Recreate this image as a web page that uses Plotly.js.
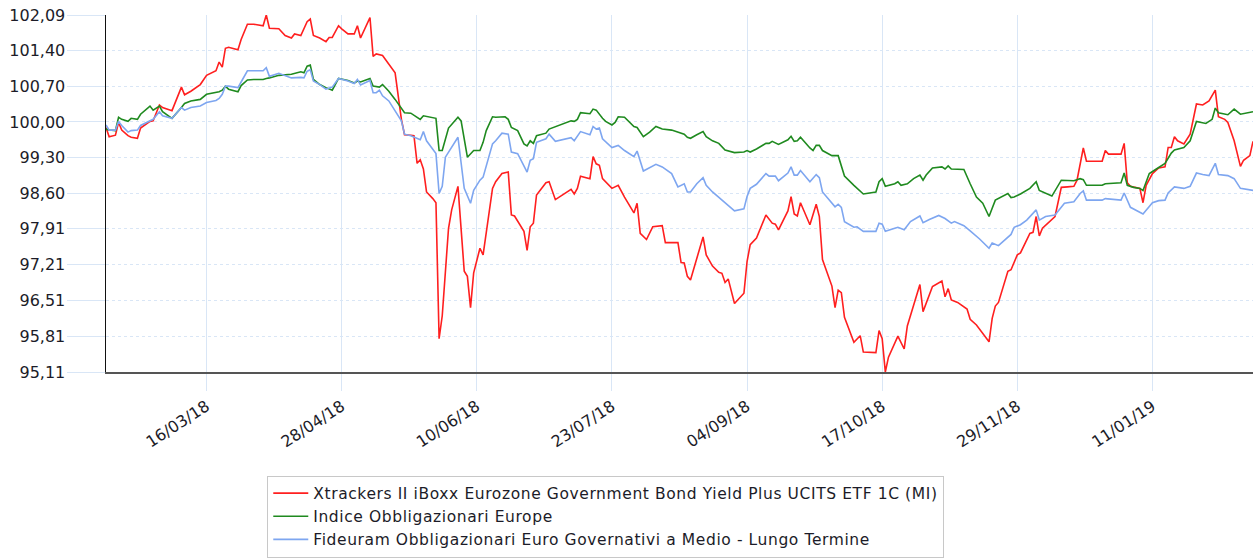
<!DOCTYPE html>
<html>
<head>
<meta charset="utf-8">
<script src="https://cdn.plot.ly/plotly-3.0.1.min.js"></script>
<style>html,body{margin:0;padding:0;background:#fff;}#chart{width:1255px;height:559px;}.legendtext{letter-spacing:0.6px;}</style>
</head>
<body>
<div id="chart"></div>
<script>
const seriesNames = [
  "Xtrackers II iBoxx Eurozone Government Bond Yield Plus UCITS ETF 1C (MI)",
  "Indice Obbligazionari Europe",
  "Fideuram Obbligazionari Euro Governativi a Medio - Lungo Termine"
];

const redDates = ["2018-02-12","2018-02-13","2018-02-15","2018-02-16","2018-02-17","2018-02-19","2018-02-20","2018-02-22","2018-02-23","2018-02-26","2018-02-27","2018-03-01","2018-03-02","2018-03-05","2018-03-08","2018-03-09","2018-03-11","2018-03-14","2018-03-16","2018-03-19","2018-03-20","2018-03-21","2018-03-22","2018-03-23","2018-03-26","2018-03-27","2018-03-29","2018-03-31","2018-04-03","2018-04-04","2018-04-05","2018-04-08","2018-04-10","2018-04-12","2018-04-13","2018-04-15","2018-04-17","2018-04-18","2018-04-19","2018-04-21","2018-04-23","2018-04-24","2018-04-25","2018-04-27","2018-04-28","2018-04-30","2018-05-02","2018-05-03","2018-05-04","2018-05-07","2018-05-08","2018-05-09","2018-05-11","2018-05-13","2018-05-15","2018-05-17","2018-05-18","2018-05-20","2018-05-21","2018-05-22","2018-05-23","2018-05-24","2018-05-25","2018-05-27","2018-05-28","2018-05-29","2018-05-30","2018-06-01","2018-06-02","2018-06-04","2018-06-06","2018-06-07","2018-06-08","2018-06-09","2018-06-11","2018-06-12","2018-06-13","2018-06-15","2018-06-16","2018-06-18","2018-06-20","2018-06-21","2018-06-22","2018-06-25","2018-06-26","2018-06-27","2018-06-28","2018-06-29","2018-07-02","2018-07-03","2018-07-05","2018-07-10","2018-07-11","2018-07-12","2018-07-13","2018-07-16","2018-07-17","2018-07-18","2018-07-19","2018-07-20","2018-07-23","2018-07-25","2018-07-27","2018-07-30","2018-07-31","2018-08-01","2018-08-03","2018-08-05","2018-08-08","2018-08-09","2018-08-13","2018-08-14","2018-08-15","2018-08-16","2018-08-17","2018-08-19","2018-08-21","2018-08-22","2018-08-24","2018-08-26","2018-08-27","2018-08-28","2018-08-29","2018-08-31","2018-09-03","2018-09-04","2018-09-05","2018-09-07","2018-09-10","2018-09-12","2018-09-13","2018-09-14","2018-09-17","2018-09-18","2018-09-19","2018-09-20","2018-09-21","2018-09-24","2018-09-26","2018-09-27","2018-09-28","2018-10-01","2018-10-02","2018-10-03","2018-10-04","2018-10-05","2018-10-08","2018-10-10","2018-10-11","2018-10-15","2018-10-16","2018-10-17","2018-10-18","2018-10-19","2018-10-22","2018-10-24","2018-10-25","2018-10-29","2018-10-30","2018-11-02","2018-11-05","2018-11-06","2018-11-07","2018-11-08","2018-11-10","2018-11-13","2018-11-14","2018-11-16","2018-11-20","2018-11-21","2018-11-22","2018-11-23","2018-11-26","2018-11-27","2018-11-29","2018-11-30","2018-12-03","2018-12-04","2018-12-05","2018-12-06","2018-12-07","2018-12-11","2018-12-13","2018-12-15","2018-12-17","2018-12-18","2018-12-20","2018-12-21","2018-12-26","2018-12-27","2018-12-28","2019-01-01","2019-01-02","2019-01-03","2019-01-04","2019-01-07","2019-01-08","2019-01-09","2019-01-11","2019-01-13","2019-01-15","2019-01-16","2019-01-17","2019-01-18","2019-01-19","2019-01-21","2019-01-23","2019-01-25","2019-01-27","2019-01-29","2019-01-31","2019-02-01","2019-02-03","2019-02-04","2019-02-06","2019-02-08","2019-02-09","2019-02-11","2019-02-12"];
const redValues = [99.89,99.71,99.74,99.99,99.84,99.73,99.70,99.68,99.88,100.01,100.02,100.33,100.28,100.22,100.68,100.53,100.60,100.73,100.91,101.00,101.17,101.07,101.44,101.46,101.41,101.61,101.91,101.91,101.88,102.09,101.83,101.82,101.69,101.64,101.72,101.69,101.96,102.01,101.69,101.64,101.57,101.65,101.65,101.88,101.82,101.72,101.72,101.88,101.64,102.04,101.28,101.33,101.30,101.13,100.96,100.05,99.75,99.74,99.73,99.19,99.26,99.08,98.63,98.50,98.42,95.76,96.21,97.92,98.28,98.74,97.08,96.98,96.37,97.05,97.53,97.40,97.82,98.70,98.83,98.99,99.02,98.18,98.16,97.86,97.49,97.95,98.02,98.57,98.81,98.83,98.48,98.68,98.59,98.70,98.94,98.89,99.32,99.18,99.15,98.89,98.70,98.76,98.53,98.22,98.41,97.82,97.70,97.95,97.97,97.64,97.64,97.25,97.24,96.98,96.91,97.31,97.75,97.40,97.18,97.06,97.04,96.86,96.93,96.45,96.65,97.27,97.60,97.73,98.18,98.02,98.00,97.89,98.26,98.54,98.20,98.16,98.42,97.99,98.39,98.15,97.31,96.79,96.37,96.71,96.66,96.18,95.69,95.82,95.50,95.49,95.92,95.76,95.11,95.40,95.81,95.56,96.01,96.82,96.29,96.78,96.89,96.58,96.74,96.52,96.47,96.34,96.14,96.03,95.70,96.16,96.40,96.47,97.08,97.11,97.40,97.44,97.82,97.84,98.15,97.77,97.92,98.15,98.72,98.73,98.74,98.86,99.49,99.23,99.23,99.44,99.37,99.37,99.58,98.81,98.74,98.70,98.42,98.76,98.99,99.10,99.12,99.50,99.50,99.71,99.63,99.57,99.76,100.35,100.33,100.41,100.62,100.10,100.05,99.99,99.63,99.13,99.25,99.34,99.62];

const greenDates = ["2018-02-12","2018-02-13","2018-02-15","2018-02-16","2018-02-17","2018-02-19","2018-02-20","2018-02-22","2018-02-23","2018-02-26","2018-02-27","2018-03-01","2018-03-02","2018-03-05","2018-03-08","2018-03-09","2018-03-11","2018-03-14","2018-03-16","2018-03-19","2018-03-20","2018-03-21","2018-03-22","2018-03-23","2018-03-26","2018-03-27","2018-03-29","2018-03-31","2018-04-03","2018-04-04","2018-04-05","2018-04-08","2018-04-12","2018-04-15","2018-04-16","2018-04-17","2018-04-18","2018-04-19","2018-04-21","2018-04-23","2018-04-25","2018-04-27","2018-04-30","2018-05-02","2018-05-03","2018-05-04","2018-05-07","2018-05-08","2018-05-10","2018-05-11","2018-05-13","2018-05-15","2018-05-17","2018-05-18","2018-05-20","2018-05-23","2018-05-24","2018-05-26","2018-05-28","2018-05-29","2018-05-30","2018-06-01","2018-06-03","2018-06-04","2018-06-05","2018-06-06","2018-06-07","2018-06-09","2018-06-11","2018-06-12","2018-06-13","2018-06-15","2018-06-16","2018-06-19","2018-06-20","2018-06-21","2018-06-23","2018-06-25","2018-06-26","2018-06-27","2018-06-28","2018-06-29","2018-07-02","2018-07-03","2018-07-05","2018-07-10","2018-07-11","2018-07-12","2018-07-13","2018-07-16","2018-07-17","2018-07-18","2018-07-20","2018-07-21","2018-07-23","2018-07-24","2018-07-25","2018-07-27","2018-07-30","2018-07-31","2018-08-02","2018-08-04","2018-08-06","2018-08-08","2018-08-11","2018-08-13","2018-08-15","2018-08-16","2018-08-17","2018-08-19","2018-08-21","2018-08-22","2018-08-24","2018-08-26","2018-08-28","2018-08-31","2018-09-03","2018-09-04","2018-09-05","2018-09-07","2018-09-10","2018-09-11","2018-09-12","2018-09-14","2018-09-17","2018-09-18","2018-09-19","2018-09-20","2018-09-21","2018-09-24","2018-09-25","2018-09-26","2018-09-27","2018-09-28","2018-10-01","2018-10-03","2018-10-05","2018-10-08","2018-10-11","2018-10-15","2018-10-16","2018-10-17","2018-10-18","2018-10-21","2018-10-22","2018-10-23","2018-10-25","2018-10-27","2018-10-29","2018-10-30","2018-10-31","2018-11-02","2018-11-05","2018-11-06","2018-11-07","2018-11-08","2018-11-12","2018-11-14","2018-11-16","2018-11-18","2018-11-20","2018-11-21","2018-11-22","2018-11-26","2018-11-27","2018-11-28","2018-11-30","2018-12-03","2018-12-05","2018-12-06","2018-12-08","2018-12-10","2018-12-13","2018-12-15","2018-12-17","2018-12-19","2018-12-20","2018-12-21","2018-12-26","2018-12-27","2019-01-01","2019-01-02","2019-01-03","2019-01-05","2019-01-07","2019-01-08","2019-01-10","2019-01-12","2019-01-15","2019-01-17","2019-01-18","2019-01-21","2019-01-23","2019-01-25","2019-01-28","2019-01-30","2019-01-31","2019-02-01","2019-02-04","2019-02-06","2019-02-08","2019-02-12"];
const greenValues = [99.86,99.84,99.83,100.09,100.05,100.01,100.07,100.05,100.15,100.31,100.23,100.31,100.20,100.07,100.28,100.36,100.41,100.44,100.54,100.57,100.59,100.62,100.70,100.64,100.59,100.71,100.82,100.83,100.83,100.85,100.86,100.91,100.93,100.98,100.96,101.09,101.11,100.83,100.73,100.67,100.62,100.85,100.81,100.76,100.80,100.78,100.85,100.70,100.68,100.73,100.60,100.44,100.25,100.18,100.17,100.05,100.12,100.09,100.07,99.44,99.44,99.88,100.02,100.09,100.02,99.63,99.31,99.44,99.44,99.60,99.83,100.10,100.09,100.10,100.05,99.89,99.83,99.57,99.53,99.63,99.58,99.73,99.78,99.86,99.91,100.02,100.01,100.05,100.18,100.16,100.25,100.23,100.07,100.01,99.94,99.99,100.10,100.09,99.91,99.89,99.71,99.80,99.91,99.86,99.84,99.80,99.76,99.70,99.68,99.75,99.81,99.71,99.63,99.58,99.45,99.40,99.41,99.44,99.41,99.47,99.58,99.58,99.62,99.56,99.65,99.72,99.62,99.63,99.70,99.49,99.44,99.54,99.54,99.44,99.34,99.34,98.94,98.76,98.59,98.63,98.83,98.89,98.74,98.79,98.83,98.76,98.79,98.89,98.96,98.86,98.96,99.10,99.12,99.08,99.14,99.08,99.07,98.79,98.53,98.41,98.15,98.31,98.47,98.60,98.52,98.53,98.59,98.70,98.83,98.66,98.60,98.55,98.86,98.86,98.85,98.89,98.87,98.76,98.76,98.79,98.81,99.00,98.76,98.72,98.70,98.66,98.99,99.07,99.19,99.39,99.45,99.50,99.63,100.01,99.97,100.05,100.27,100.18,100.14,100.25,100.15,100.20];

const blueDates = ["2018-02-12","2018-02-13","2018-02-15","2018-02-16","2018-02-17","2018-02-19","2018-02-20","2018-02-22","2018-02-23","2018-02-26","2018-02-27","2018-03-01","2018-03-02","2018-03-05","2018-03-08","2018-03-09","2018-03-11","2018-03-14","2018-03-16","2018-03-19","2018-03-20","2018-03-21","2018-03-22","2018-03-23","2018-03-26","2018-03-27","2018-03-29","2018-03-31","2018-04-03","2018-04-04","2018-04-05","2018-04-08","2018-04-12","2018-04-15","2018-04-16","2018-04-17","2018-04-18","2018-04-19","2018-04-21","2018-04-23","2018-04-25","2018-04-27","2018-04-30","2018-05-02","2018-05-03","2018-05-04","2018-05-07","2018-05-08","2018-05-09","2018-05-10","2018-05-11","2018-05-13","2018-05-15","2018-05-17","2018-05-18","2018-05-20","2018-05-23","2018-05-24","2018-05-25","2018-05-28","2018-05-29","2018-05-30","2018-05-31","2018-06-04","2018-06-06","2018-06-08","2018-06-09","2018-06-11","2018-06-12","2018-06-13","2018-06-15","2018-06-16","2018-06-18","2018-06-20","2018-06-21","2018-06-23","2018-06-25","2018-06-26","2018-06-27","2018-06-28","2018-06-29","2018-07-02","2018-07-03","2018-07-05","2018-07-10","2018-07-11","2018-07-13","2018-07-16","2018-07-17","2018-07-18","2018-07-19","2018-07-20","2018-07-23","2018-07-25","2018-07-27","2018-07-30","2018-07-31","2018-08-02","2018-08-06","2018-08-08","2018-08-11","2018-08-13","2018-08-15","2018-08-16","2018-08-17","2018-08-19","2018-08-21","2018-08-22","2018-08-24","2018-08-26","2018-08-28","2018-08-31","2018-09-03","2018-09-04","2018-09-05","2018-09-07","2018-09-10","2018-09-11","2018-09-13","2018-09-14","2018-09-17","2018-09-18","2018-09-19","2018-09-20","2018-09-21","2018-09-24","2018-09-26","2018-09-27","2018-09-28","2018-10-01","2018-10-02","2018-10-03","2018-10-04","2018-10-05","2018-10-08","2018-10-09","2018-10-11","2018-10-15","2018-10-16","2018-10-17","2018-10-18","2018-10-21","2018-10-22","2018-10-24","2018-10-26","2018-10-29","2018-10-30","2018-11-01","2018-11-04","2018-11-06","2018-11-08","2018-11-09","2018-11-12","2018-11-14","2018-11-17","2018-11-20","2018-11-21","2018-11-23","2018-11-26","2018-11-27","2018-11-28","2018-11-30","2018-12-02","2018-12-05","2018-12-06","2018-12-08","2018-12-11","2018-12-14","2018-12-17","2018-12-19","2018-12-20","2018-12-21","2018-12-26","2018-12-27","2019-01-01","2019-01-02","2019-01-04","2019-01-06","2019-01-08","2019-01-11","2019-01-13","2019-01-15","2019-01-16","2019-01-18","2019-01-21","2019-01-23","2019-01-25","2019-01-27","2019-01-29","2019-01-31","2019-02-01","2019-02-04","2019-02-06","2019-02-08","2019-02-12"];
const blueValues = [99.94,99.84,99.84,100.01,99.93,99.80,99.83,99.84,99.93,100.02,100.05,100.20,100.12,100.07,100.28,100.23,100.28,100.31,100.38,100.42,100.46,100.54,100.70,100.70,100.67,100.78,101.00,101.00,101.00,101.06,100.89,100.95,100.86,100.87,100.86,100.99,101.02,100.80,100.73,100.64,100.68,100.85,100.80,100.75,100.83,100.72,100.81,100.57,100.57,100.62,100.51,100.41,100.22,100.02,99.76,99.73,99.65,99.81,99.63,99.38,98.60,98.74,99.31,99.70,98.70,98.41,98.66,98.86,98.92,99.12,99.57,99.63,99.78,99.76,99.41,99.38,99.15,99.02,99.25,99.28,99.60,99.67,99.76,99.62,99.69,99.63,99.81,99.75,99.91,99.86,99.88,99.67,99.50,99.54,99.44,99.32,99.43,99.04,99.17,99.12,98.99,98.73,98.79,98.63,98.63,98.79,98.91,98.76,98.63,98.52,98.42,98.26,98.30,98.54,98.70,98.78,98.99,98.94,98.94,98.85,99.00,99.12,98.96,98.96,99.05,98.83,98.97,98.91,98.63,98.41,98.34,98.39,98.33,98.05,97.94,97.95,97.86,97.86,98.02,98.00,97.86,97.92,97.94,97.89,98.05,98.16,98.03,98.09,98.17,98.11,98.02,98.05,97.97,97.87,97.71,97.53,97.63,97.58,97.76,97.80,97.94,97.99,98.08,98.28,98.08,98.15,98.18,98.41,98.44,98.60,98.65,98.47,98.47,98.50,98.47,98.61,98.33,98.26,98.20,98.42,98.46,98.47,98.61,98.73,98.70,98.74,99.00,98.97,98.95,99.19,98.97,98.95,98.89,98.70,98.66];

const yTickValues = [95.11,95.81,96.51,97.21,97.91,98.60,99.30,100.00,100.70,101.40,102.09];
const yTickLabels = ["95,11","95,81","96,51","97,21","97,91","98,60","99,30","100,00","100,70","101,40","102,09"];
const xTickDates = ["2018-03-16","2018-04-28","2018-06-10","2018-07-23","2018-09-04","2018-10-17","2018-11-29","2019-01-11"];
const xTickLabels = ["16/03/18","28/04/18","10/06/18","23/07/18","04/09/18","17/10/18","29/11/18","11/01/19"];

const FONT = "'DejaVu Sans', Verdana, sans-serif";
const GRID = "#d9e6f6";
const TEXT = "#1c1c28";

const traces = [
  {x: redDates, y: redValues, name: seriesNames[0], type: "scatter", mode: "lines", line: {color: "#ff1f1f", width: 1.6}},
  {x: greenDates, y: greenValues, name: seriesNames[1], type: "scatter", mode: "lines", line: {color: "#1f8a1f", width: 1.6}},
  {x: blueDates, y: blueValues, name: seriesNames[2], type: "scatter", mode: "lines", line: {color: "#7ea6f0", width: 1.6}}
];

const layout = {
  width: 1255, height: 559,
  margin: {l: 106, r: 2, t: 15, b: 184, pad: 0},
  paper_bgcolor: "#ffffff", plot_bgcolor: "#ffffff",
  font: {family: FONT, size: 16, color: TEXT},
  showlegend: true,
  legend: {
    x: 0.1406, xanchor: "left", y: -0.29, yanchor: "top",
    bordercolor: "#c8c8c8", borderwidth: 1, bgcolor: "#ffffff",
    font: {family: FONT, size: 15.5, color: TEXT},
    itemwidth: 35, tracegroupgap: 0
  },
  xaxis: {
    type: "date",
    range: ["2018-02-12", "2019-02-12"],
    tickmode: "array", tickvals: xTickDates, ticktext: xTickLabels,
    tickangle: -33,
    tickfont: {family: FONT, size: 16, color: TEXT},
    showgrid: true, gridcolor: GRID, gridwidth: 1,
    ticks: "outside", ticklen: 17, tickcolor: GRID, tickwidth: 1,
    showline: true, linecolor: "#555555", linewidth: 2,
    zeroline: false, fixedrange: true, automargin: false
  },
  yaxis: {
    range: [95.11, 102.09],
    tickmode: "array", tickvals: yTickValues, ticktext: yTickLabels,
    tickfont: {family: FONT, size: 16, color: TEXT},
    showgrid: true, gridcolor: GRID, gridwidth: 1, griddash: "dot",
    ticks: "outside", ticklen: 38, tickcolor: GRID, tickwidth: 1,
    ticklabelstandoff: -2,
    showline: true, linecolor: "#111111", linewidth: 1.5,
    zeroline: false, fixedrange: true, automargin: false
  }
};

Plotly.newPlot("chart", traces, layout, {displayModeBar: false, staticPlot: true});
</script>
</body>
</html>
